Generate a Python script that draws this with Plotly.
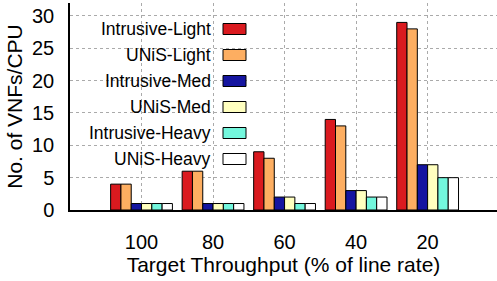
import plotly.graph_objects as go

categories = ["100", "80", "60", "40", "20"]
series_names = ["Intrusive-Light", "UNiS-Light", "Intrusive-Med", "UNiS-Med", "Intrusive-Heavy", "UNiS-Heavy"]
intrusive_light = [4, 6, 9, 14, 29]
unis_light = [4, 6, 8, 13, 28]
intrusive_med = [1, 1, 2, 3, 7]
unis_med = [1, 1, 2, 3, 7]
intrusive_heavy = [1, 1, 1, 2, 5]
unis_heavy = [1, 1, 1, 2, 5]
y_ticks = [0, 5, 10, 15, 20, 25, 30]

series_values = [intrusive_light, unis_light, intrusive_med, unis_med, intrusive_heavy, unis_heavy]
colors = ["#da1a1f", "#fdae61", "#1515a0", "#ffffbf", "#73f7dd", "#ffffff"]

FONT = "Liberation Sans, Arial, sans-serif"

fig = go.Figure()
for name, vals, col in zip(series_names, series_values, colors):
    fig.add_trace(go.Bar(
        x=categories, y=vals, name=name,
        marker=dict(color=col, line=dict(color="black", width=1)),
        showlegend=False,
    ))

# Manual legend (label left of swatch, as in the reference)
W, H = 497, 281
ml, mr, mt, mb = 70, 0, 3, 71
pw, ph = W - ml - mr, H - mt - mb
def px_to_paper_x(px):
    return (px - ml) / pw
def px_to_paper_y(py):
    return (H - mb - py) / ph

row_centers = [29, 55, 81, 107, 133, 159]
annotations = []
shapes = []
for name, col, cy in zip(series_names, colors, row_centers):
    annotations.append(dict(
        x=px_to_paper_x(213), y=px_to_paper_y(cy), xref="paper", yref="paper",
        text=name, showarrow=False, xanchor="right", yanchor="middle",
        font=dict(family=FONT, size=17.5, color="black"),
    ))
    shapes.append(dict(
        type="rect", xref="paper", yref="paper",
        x0=px_to_paper_x(223), x1=px_to_paper_x(246),
        y0=px_to_paper_y(cy + 5.5), y1=px_to_paper_y(cy - 5.5),
        fillcolor=col, line=dict(color="black", width=1),
    ))

fig.update_layout(
    width=W, height=H,
    margin=dict(l=ml, r=mr, t=mt, b=mb, autoexpand=False),
    barmode="group", bargap=0.136, bargroupgap=0,
    plot_bgcolor="white", paper_bgcolor="white",
    font=dict(family=FONT, size=20, color="black"),
    annotations=annotations, shapes=shapes,
    xaxis=dict(
        range=[-1, 4.97], showline=True, linecolor="black", linewidth=1.5,
        showgrid=True, gridcolor="#aaaaaa", griddash="dot", gridwidth=1,
        ticks="", tickfont=dict(size=20), ticklabelstandoff=13, automargin=False,
        title=dict(text="Target Throughput (% of line rate)", font=dict(size=21), standoff=0),
    ),
    yaxis=dict(
        range=[0, 32], tickvals=y_ticks, showline=True, linecolor="black", linewidth=1.5,
        showgrid=True, gridcolor="#aaaaaa", griddash="dot", gridwidth=1,
        zeroline=False, ticks="", tickfont=dict(size=20), ticklabelstandoff=10, automargin=False,
        title=dict(text="No. of VNFs/CPU", font=dict(size=21), standoff=4),
    ),
)

fig.write_html(
    "out.html",
    config={"displayModeBar": False},
    post_script="document.body.style.margin='0';document.body.style.padding='0';",
)
